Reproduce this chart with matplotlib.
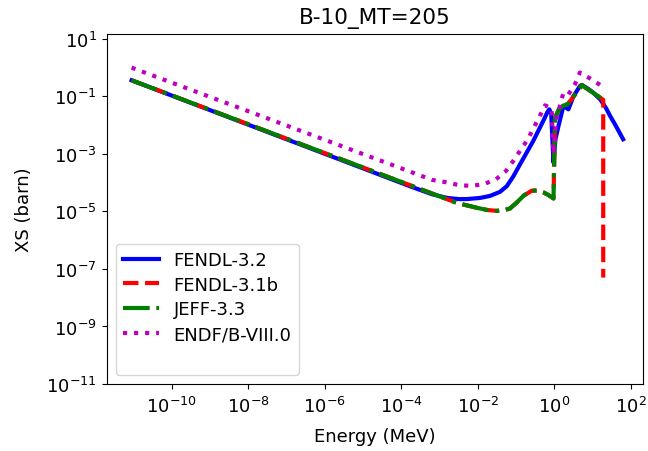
import matplotlib
matplotlib.use("Agg")
import matplotlib.pyplot as plt
import numpy as np

plt.rcParams['font.size'] = 13

# log10 of energy (MeV) and cross section (barn)
fendl32_logE = [-11.05, -3.7, -3.2, -2.8, -2.5, -2.29, -1.94, -1.68, -1.42, -1.24,
                -1.07, -0.89, -0.72, -0.55, -0.4, -0.28, -0.18, -0.13, -0.08, -0.02,
                0.03, 0.11, 0.24, 0.37, 0.5, 0.67, 0.72, 0.9, 1.0, 1.2,
                1.35, 1.46, 1.6, 1.8]
fendl32_logXS = [-0.44, -4.16, -4.40, -4.53, -4.57, -4.57, -4.53, -4.46, -4.32, -4.12,
                 -3.78, -3.35, -2.95, -2.55, -2.15, -1.83, -1.55, -1.45, -1.6, -3.3,
                 -2.5, -2.03, -1.33, -1.45, -1.0, -0.64, -0.6, -0.75, -0.85, -1.1,
                 -1.4, -1.68, -2.0, -2.49]

jeff33_logE = [-11.05, -2.51, -2.25, -2.0, -1.75, -1.5, -1.3, -1.16, -0.98, -0.8,
               -0.59, -0.45, -0.28, -0.15, -0.02, 0.02, 0.12, 0.22, 0.35, 0.48,
               0.72, 1.1, 1.28]
jeff33_logXS = [-0.44, -4.72, -4.8, -4.88, -4.95, -4.98, -4.95, -4.9, -4.69, -4.45,
                -4.28, -4.27, -4.34, -4.43, -4.55, -1.75, -1.45, -1.33, -1.27, -1.05,
                -0.61, -0.95, -1.12]

# FENDL-3.1b is the same as JEFF-3.3 plus a last point at ~20 MeV
fendl31b_logE = jeff33_logE + [1.28]
fendl31b_logXS = jeff33_logXS + [-7.3]

endf8_logE = [-11.05, -3.2, -2.81, -2.48, -2.16, -1.84, -1.52, -1.26, -1.07, -0.88,
              -0.70, -0.55, -0.40, -0.24, -0.07, -0.02, 0.05, 0.24, 0.37, 0.54,
              0.67, 0.98, 1.24, 1.3]
endf8_logXS = [0.0, -3.9, -3.99, -4.09, -4.11, -4.05, -3.88, -3.59, -3.24, -2.86,
               -2.51, -2.12, -1.74, -1.31, -1.42, -3.0, -1.8, -0.87, -0.93, -0.58,
               -0.17, -0.41, -0.64, -0.7]

libs = [
    ("FENDL-3.2", fendl32_logE, fendl32_logXS, 'b', '-'),
    ("FENDL-3.1b", fendl31b_logE, fendl31b_logXS, 'r', '--'),
    ("JEFF-3.3", jeff33_logE, jeff33_logXS, 'g', '-.'),
    ("ENDF/B-VIII.0", endf8_logE, endf8_logXS, 'm', ':'),
]

fig = plt.figure(figsize=(6.48, 4.52), dpi=100)
ax = fig.add_axes([0.1647, 0.1482, 0.8276, 0.7744])

for name, le, lxs, col, ls in libs:
    ax.plot(10.0 ** np.array(le), 10.0 ** np.array(lxs), color=col, linestyle=ls,
            linewidth=3, label=name)
# the legend in the picture has an empty last row
ax.plot([], [], linestyle='none', label=' ')

ax.set_xscale('log')
ax.set_yscale('log')
ax.set_xlim(10 ** -11.7, 10 ** 2.32)
ax.set_ylim(1e-11, 10 ** 1.17)
ax.set_xticks([1e-10, 1e-8, 1e-6, 1e-4, 1e-2, 1e0, 1e2])
ax.set_yticks([1e-11, 1e-9, 1e-7, 1e-5, 1e-3, 1e-1, 1e1])
ax.minorticks_off()
ax.tick_params(axis='x', pad=5)
ax.set_xlabel("Energy (MeV)", labelpad=8)
ax.set_ylabel("XS (barn)", labelpad=10)
ax.set_title("B-10_MT=205", pad=8)
ax.legend(loc='lower left', labelspacing=0.37)

fig.savefig("out.png", dpi=100)
